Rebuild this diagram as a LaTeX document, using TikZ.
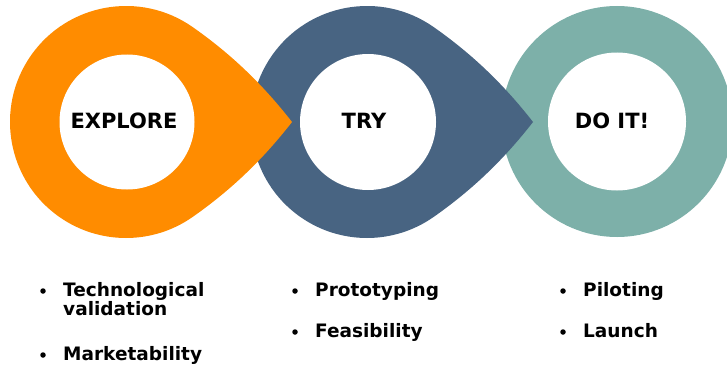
\documentclass[tikz,border=0pt]{standalone}
\usepackage{fontspec}
\setmainfont{DejaVu Sans}
\usetikzlibrary{calc}

\definecolor{exploreorange}{RGB}{255,140,0}
\definecolor{tryblue}{RGB}{72,100,130}
\definecolor{doteal}{RGB}{125,176,169}

\tikzset{
  stagelabel/.style={font=\bfseries\fontsize{21}{24}\selectfont, inner sep=0pt, anchor=base},
  itemtext/.style={font=\bfseries\fontsize{18.5}{22}\selectfont, inner sep=0pt, anchor=base west},
  bulletdot/.style={circle, fill=black, inner sep=0pt, minimum size=5.5pt},
  hole/.style={fill=white}
}

% teardrop ring body: round on the left, pointed to the right
\newcommand\stagedrop[2]{%
  \fill[#2] ($(#1)+(166,0)$)
    .. controls ($(#1)+(138.3,35.5)$) and ($(#1)+(107.5,66.3)$) .. ($(#1)+(66.53,95.02)$)
    arc[start angle=55, end angle=305, radius=116pt]
    .. controls ($(#1)+(107.5,-66.3)$) and ($(#1)+(138.3,-35.5)$) .. cycle;
}

\begin{document}
\begin{tikzpicture}[x=1pt, y=1pt]
  \useasboundingbox (0,0) rectangle (727,365);
  \clip (0,0) rectangle (727,365);

  \coordinate (ec) at (126,243);
  \coordinate (tc) at (367,243);
  \coordinate (dc) at (617,243.5);

  % DO IT! ring (drawn first, lies underneath)
  \fill[doteal] (dc) circle[radius=115.5pt];
  \fill[hole] (dc) circle[radius=69pt];

  % TRY drop
  \stagedrop{tc}{tryblue}
  \fill[hole] ($(tc)+(1,0)$) circle[radius=68pt];

  % EXPLORE drop (on top)
  \stagedrop{ec}{exploreorange}
  \fill[hole] ($(ec)+(1,0)$) circle[radius=67.5pt];

  % stage titles
  \node[stagelabel] (explore) at (124,237) {EXPLORE};
  \node[stagelabel] (try) at (364,237) {TRY};
  \node[stagelabel] (doit) at (612,237) {DO IT!};

  % EXPLORE items
  \node[bulletdot] (b11) at (43,74) {};
  \node[itemtext] (i11) at (63,69) {Technological};
  \node[itemtext] (i11b) at (63,50) {validation};
  \node[bulletdot] (b12) at (43,10) {};
  \node[itemtext] (i12) at (63,5) {Marketability};

  % TRY items
  \node[bulletdot] (b21) at (295,74) {};
  \node[itemtext] (i21) at (315,69) {Prototyping};
  \node[bulletdot] (b22) at (295,33) {};
  \node[itemtext] (i22) at (315,28) {Feasibility};

  % DO IT! items
  \node[bulletdot] (b31) at (563,74) {};
  \node[itemtext] (i31) at (583,69) {Piloting};
  \node[bulletdot] (b32) at (563,33) {};
  \node[itemtext] (i32) at (583,28) {Launch};
\end{tikzpicture}
\end{document}
